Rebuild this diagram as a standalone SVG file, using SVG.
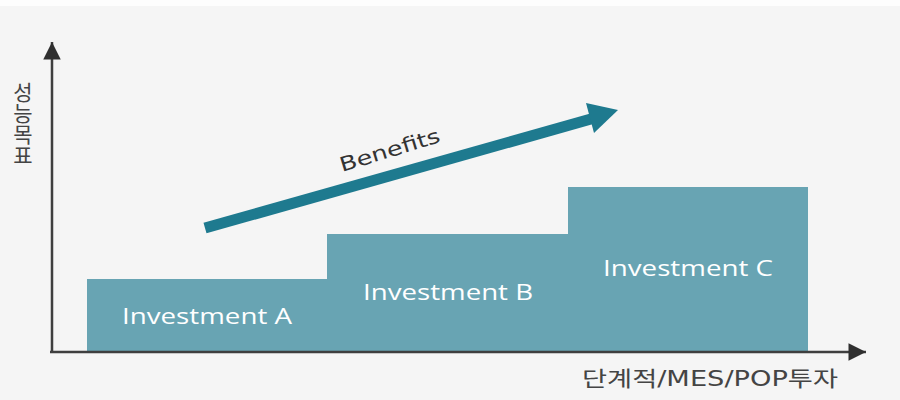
<svg xmlns="http://www.w3.org/2000/svg" width="900" height="400" viewBox="0 0 900 400">
<defs>
<style>
.bar{fill:#68a4b3;}
.barlbl{fill:#ffffff;font-family:"Open Sans","DejaVu Sans",sans-serif;font-size:21px;}
.axis{stroke:#3f3f3f;stroke-width:2.5;fill:none;}
.ax-lbl{fill:#444444;font-family:"DejaVu Sans","Noto Sans CJK KR",sans-serif;font-size:21px;}
</style>
<marker id="axhead" viewBox="0 0 10 10" refX="10" refY="5" markerWidth="8.5" markerHeight="7" markerUnits="strokeWidth" orient="auto">
<path d="M0,0 L10,5 L0,10 Z" fill="#2f2f2f"/>
</marker>
</defs>
<rect width="900" height="400" fill="#f5f5f5"/>
<rect width="900" height="6" fill="#fdfdfd"/>
<g id="bar-a"><rect class="bar" x="87" y="279" width="240" height="73"/><text class="barlbl" x="122" y="324" textLength="170" lengthAdjust="spacingAndGlyphs">Investment A</text></g>
<g id="bar-b"><rect class="bar" x="327" y="234" width="241" height="118"/><text class="barlbl" x="363" y="300" textLength="170" lengthAdjust="spacingAndGlyphs">Investment B</text></g>
<g id="bar-c"><rect class="bar" x="568" y="187" width="240" height="165"/><text class="barlbl" x="603" y="276" textLength="170" lengthAdjust="spacingAndGlyphs">Investment C</text></g>
<g id="connectors">
<line class="axis" x1="52" y1="353" x2="52" y2="42" marker-end="url(#axhead)"/>
<line class="axis" x1="50" y1="352" x2="866" y2="352" marker-end="url(#axhead)"/>
<g id="benefits-arrow">
<line x1="205" y1="228" x2="598" y2="117" stroke="#1e7a8f" stroke-width="11"/>
<path d="M618,110 L586,103 L594,133 Z" fill="#1e7a8f"/>
</g>
</g>
<text x="342" y="172" fill="#333333" font-family="DejaVu Sans, sans-serif" font-size="20" textLength="104" lengthAdjust="spacingAndGlyphs" transform="rotate(-17 342 172)">Benefits</text>
<g id="y-label"><text class="ax-lbl" x="23" y="82" font-size="19" writing-mode="vertical-rl" style="font-family:'Noto Sans CJK KR',sans-serif">성능목표</text></g>
<g id="x-label"><text class="ax-lbl" x="582" y="386" font-size="22" textLength="256" lengthAdjust="spacingAndGlyphs">단계적/MES/POP투자</text></g>
</svg>
